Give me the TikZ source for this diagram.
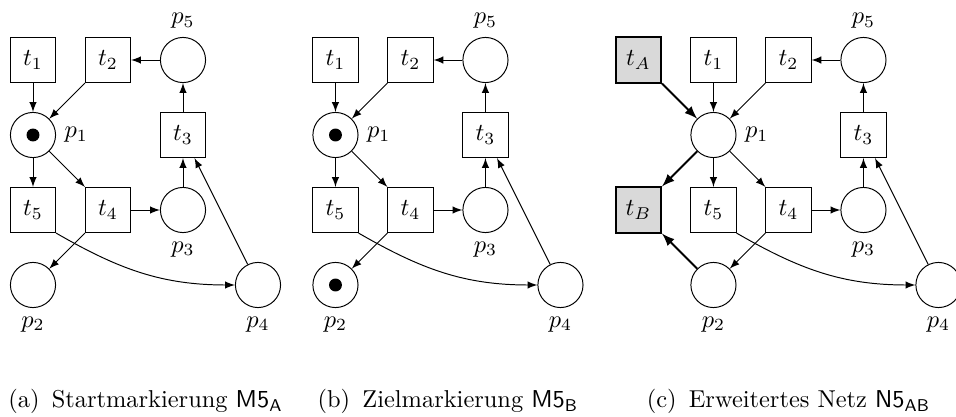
\documentclass[tikz,border=0pt]{standalone}
\usepackage{amsmath}
\usepackage{amssymb}
\usepackage{xcolor}
\usepackage{tikz}
\usetikzlibrary{arrows}
\definecolor{trnfill}{RGB}{217, 217, 217}

% Grundnetz: #1 = Namenspraefix, #2 = x-Versatz
\newcommand{\grundnetz}[2]{%
    \node[trn] (#1t1) at (#2+0,3) {$t_1$};
    \node[trn] (#1t2) at (#2+1,3) {$t_2$};
    \node[plc, label={above:$p_5$}] (#1p5) at (#2+2,3) {};
    \node[plc, label={right:$p_1$}] (#1p1) at (#2+0,2) {};
    \node[trn] (#1t3) at (#2+2,2) {$t_3$};
    \node[trn] (#1t5) at (#2+0,1) {$t_5$};
    \node[trn] (#1t4) at (#2+1,1) {$t_4$};
    \node[plc, label={below:$p_3$}] (#1p3) at (#2+2,1) {};
    \node[plc, label={below:$p_2$}] (#1p2) at (#2+0,0) {};
    \node[plc, label={below:$p_4$}] (#1p4) at (#2+3,0) {};
    \draw[arr] (#1t1) -- (#1p1);
    \draw[arr] (#1t2) -- (#1p1);
    \draw[arr] (#1p5) -- (#1t2);
    \draw[arr] (#1t3) -- (#1p5);
    \draw[arr] (#1p3) -- (#1t3);
    \draw[arr] (#1p1) -- (#1t5);
    \draw[arr] (#1p1) -- (#1t4);
    \draw[arr] (#1t4) -- (#1p3);
    \draw[arr] (#1t4) -- (#1p2);
    \draw[arr] (#1p4) -- (#1t3);
    \draw[arr] (#1t5.south east) to[out=-30, in=180] (#1p4);
}

\begin{document}
\begin{tikzpicture}[x=1.08cm, y=1.08cm,
    plc/.style={circle, draw, minimum size=0.65cm, inner sep=0pt},
    trn/.style={rectangle, draw, minimum size=0.65cm, inner sep=0pt},
    trnx/.style={trn, thick, fill=trnfill},
    tok/.style={circle, fill=black, minimum size=5.3pt, inner sep=0pt},
    arr/.style={-latex},
    barr/.style={-latex, thick},
    subcap/.style={anchor=base}]

    \useasboundingbox (-0.44,-1.747) rectangle (12.307,3.8);

    % (a) Startmarkierung
    \grundnetz{a}{0}
    \node[tok] (ma1) at (ap1) {};

    % (b) Zielmarkierung
    \grundnetz{b}{4.033}
    \node[tok] (mb1) at (bp1) {};
    \node[tok] (mb2) at (bp2) {};

    % (c) Erweitertes Netz
    \grundnetz{c}{9.073}
    \node[trnx] (ctA) at (8.073,3) {$t_A$};
    \node[trnx] (ctB) at (8.073,1) {$t_B$};
    \draw[barr] (ctA) -- (cp1);
    \draw[barr] (cp1) -- (ctB);
    \draw[barr] (cp2) -- (ctB);

    % Unterschriften
    \node[subcap] (capa) at (1.5,-1.64)
        {(a)\enspace Startmarkierung $\mathsf{M5}_\mathsf{A}$};
    \node[subcap] (capb) at (5.533,-1.64)
        {(b)\enspace Zielmarkierung $\mathsf{M5}_\mathsf{B}$};
    \node[subcap] (capc) at (10.073,-1.64)
        {(c)\enspace Erweitertes Netz $\mathsf{N5}_\mathsf{AB}$};

\end{tikzpicture}
\end{document}
